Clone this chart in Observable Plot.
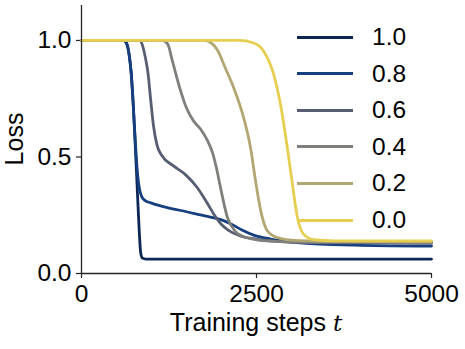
<!DOCTYPE html>
<html>
<head>
<meta charset="utf-8">
<script src="https://cdn.jsdelivr.net/npm/d3@7"></script>
<script src="https://cdn.jsdelivr.net/npm/@observablehq/plot@0.6"></script>
<style>
  html, body { margin: 0; padding: 0; background: #fff; }
  #wrap { position: relative; width: 465px; height: 349px; font-family: "Liberation Sans", Arial, sans-serif; }
  #legend { position: absolute; left: 297px; top: 19px; }
  .row { position: absolute; left: 0; height: 36px; width: 160px; }
  .sw { position: absolute; left: 0; top: 16.5px; width: 56px; height: 3px; }
  .lab { position: absolute; left: 75px; top: 3px; font-size: 24.5px; line-height: 30px; color: #000; }
  #xlab { position: absolute; left: 0; width: 512px; top: 307px; text-align: center; font-size: 25px; line-height: 30px; color: #000; }
  #xlab i { font-family: "DejaVu Serif", "Liberation Serif", serif; font-size: 23px; }
</style>
</head>
<body>
<div id="wrap"></div>
<script>
// Series labels and colours
const labels = ["1.0", "0.8", "0.6", "0.4", "0.2", "0.0"];
const colors = ["#0b2657", "#163f80", "#585e72", "#7f7f7b", "#b2a773", "#e6cf50"];

// Training step / loss samples per series
const t10 = [0, 600, 640, 680, 710, 740, 770, 800, 825, 845, 870, 920, 1100, 5000];
const l10 = [1.0, 1.0, 0.99, 0.94, 0.86, 0.72, 0.54, 0.34, 0.18, 0.09, 0.066, 0.062, 0.062, 0.062];

const t08 = [0, 600, 640, 680, 710, 740, 770, 800, 830, 860, 900, 1000, 1200, 1500, 1800, 2000, 2150, 2300, 2450, 2700, 3000, 3400, 4000, 5000];
const l08 = [1.0, 1.0, 0.99, 0.94, 0.86, 0.72, 0.56, 0.43, 0.36, 0.33, 0.315, 0.302, 0.285, 0.265, 0.245, 0.23, 0.21, 0.186, 0.166, 0.148, 0.135, 0.126, 0.121, 0.118];

const t06 = [0, 830, 870, 910, 950, 990, 1030, 1080, 1150, 1300, 1500, 1650, 1800, 1900, 2000, 2100, 2250, 2500, 2800, 3200, 5000];
const l06 = [1.0, 1.0, 0.98, 0.93, 0.86, 0.74, 0.63, 0.55, 0.505, 0.465, 0.42, 0.37, 0.30, 0.25, 0.21, 0.185, 0.163, 0.147, 0.138, 0.133, 0.13];

const t04 = [0, 1150, 1230, 1300, 1400, 1500, 1600, 1700, 1800, 1870, 1930, 1985, 2085, 2200, 2300, 2450, 2650, 3000, 5000];
const l04 = [1.0, 1.0, 0.985, 0.91, 0.8, 0.71, 0.655, 0.62, 0.57, 0.52, 0.45, 0.37, 0.24, 0.18, 0.16, 0.148, 0.14, 0.135, 0.133];

const t02 = [0, 1750, 1850, 1950, 2050, 2170, 2315, 2415, 2485, 2560, 2650, 2750, 2850, 3000, 3500, 5000];
const l02 = [1.0, 1.0, 0.99, 0.955, 0.885, 0.80, 0.67, 0.54, 0.40, 0.27, 0.185, 0.16, 0.15, 0.143, 0.138, 0.136];

const t00 = [0, 2250, 2450, 2600, 2740, 2840, 2940, 3010, 3085, 3170, 3315, 3600, 5000];
const l00 = [1.0, 1.0, 0.99, 0.955, 0.86, 0.73, 0.54, 0.39, 0.24, 0.17, 0.145, 0.14, 0.14];

const xTicks = [0, 2500, 5000];
const yTicks = [0, 0.5, 1.0];

const seriesT = [t10, t08, t06, t04, t02, t00];
const seriesL = [l10, l08, l06, l04, l02, l00];

const data = [];
labels.forEach((lab, i) => {
  seriesT[i].forEach((t, j) => data.push({series: lab, t, loss: seriesL[i][j]}));
});

const axisColor = "#262626";

const chart = Plot.plot({
  width: 465,
  height: 349,
  marginLeft: 81,
  marginRight: 34,
  marginTop: 5,
  marginBottom: 76,
  style: {fontFamily: "'Liberation Sans', Arial, sans-serif", fontSize: "24.5px", color: "#000", background: "#fff"},
  x: {domain: [0, 5000], ticks: xTicks, tickFormat: d => String(d), label: null},
  y: {domain: [0, 1.15], ticks: yTicks, tickFormat: d3.format(".1f"), label: null},
  color: {domain: labels, range: colors},
  marks: [
    Plot.axisX({ticks: xTicks, tickFormat: d => String(d), tickSize: 5, tickPadding: 6, stroke: axisColor, strokeWidth: 1.2, fontSize: 24.5, label: null}),
    Plot.axisY({ticks: yTicks, tickFormat: d3.format(".1f"), tickSize: 5, tickPadding: 5, stroke: axisColor, strokeWidth: 1.2, fontSize: 24.5, label: null}),
    Plot.line(data, {x: "t", y: "loss", z: "series", stroke: "series", strokeWidth: 2.8, curve: "monotone-x"}),
    Plot.ruleX([0], {stroke: axisColor, strokeWidth: 1.3}),
    Plot.ruleY([0], {stroke: axisColor, strokeWidth: 1.3})
  ]
});

const wrap = document.getElementById("wrap");
wrap.appendChild(chart);

// y axis title
const svg = d3.select(chart);
svg.append("text")
  .attr("transform", "translate(23,139) rotate(-90)")
  .attr("text-anchor", "middle")
  .attr("font-size", 25)
  .attr("fill", "#000")
  .text("Loss");

// x axis title with italic t
const xl = document.createElement("div");
xl.id = "xlab";
xl.innerHTML = "Training steps <i>t</i>";
wrap.appendChild(xl);

// legend
const leg = document.createElement("div");
leg.id = "legend";
labels.forEach((lab, i) => {
  const r = document.createElement("div");
  r.className = "row";
  r.style.top = (i * 36.6) + "px";
  r.innerHTML = `<div class="sw" style="background:${colors[i]}"></div><div class="lab">${lab}</div>`;
  leg.appendChild(r);
});
wrap.appendChild(leg);
</script>
</body>
</html>
